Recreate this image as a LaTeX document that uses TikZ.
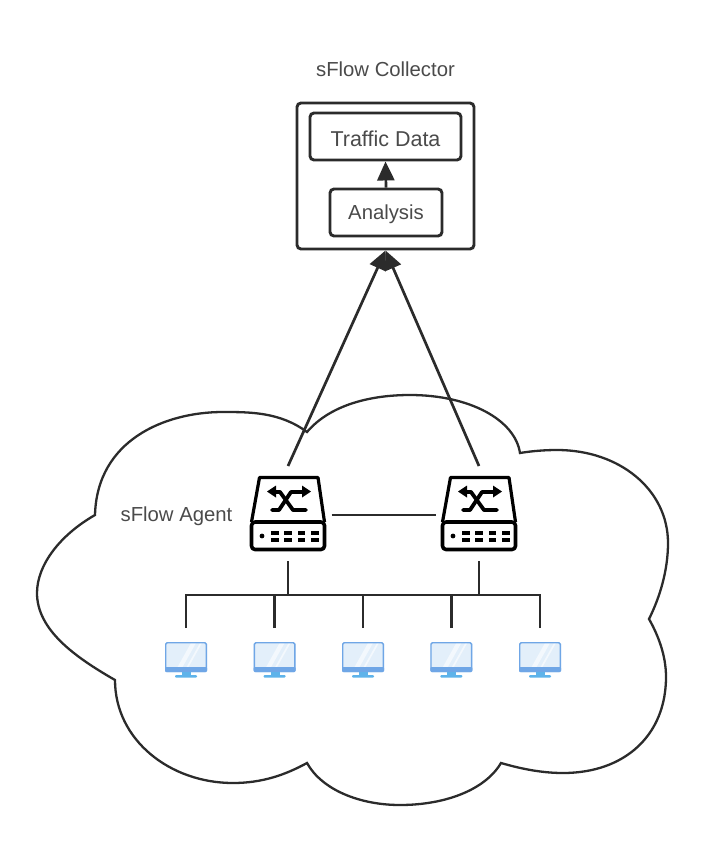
\documentclass[tikz,border=0pt]{standalone}
\usepackage{fontspec}
\setmainfont{Liberation Sans}
\usetikzlibrary{arrows.meta,calc}
\definecolor{ink}{HTML}{2B2B2B}
\definecolor{txt}{HTML}{4A4A4A}
\definecolor{monedge}{HTML}{6FA6E6}
\definecolor{monfill}{HTML}{E3EFFA}
\definecolor{monstreak}{HTML}{F3F8FD}
\tikzset{
  wire/.style={draw=ink,line width=2.7pt},
  flow/.style={wire,-{Triangle[length=19pt,width=17pt]}},
  label/.style={inner sep=0pt,text=txt,font=\fontsize{20.3}{23}\selectfont},
  boxed/.style={draw=ink,line width=2.9pt,rounded corners=4pt,inner sep=0pt,fill=white},
  swnode/.style={minimum width=76pt,minimum height=77pt,inner sep=0pt,outer xsep=5.5pt,outer ysep=9pt},
  monnode/.style={minimum width=42pt,minimum height=36pt,inner sep=0pt,outer ysep=14pt},
  switchicon/.pic={
    \begin{scope}[shift={(-38,-38.5)},line join=round]
      \draw[black,line width=3.2pt,line join=round] (1.5,47) -- (9.5,2.5) -- (68,2.5) -- (74.5,47);
      \draw[black,line width=3.6pt,rounded corners=3.5pt] (1.5,47) rectangle (74.5,74.5);
      \fill[black] (12,61) circle (2.4pt);
      \foreach \px in {21,34,47.5,61}{
        \fill[black] (\px,55.8) rectangle +(7.8,4);
        \fill[black] (\px,63) rectangle +(7.8,4);
      }
      \draw[black,line width=3.8pt,line cap=round] (22,35) -- (29,35) -- (41,17) -- (54,17);
      \draw[black,line width=3.8pt,line cap=round] (24,17) -- (30,17) -- (43,35) -- (56,35);
      \fill[black] (61,16.5) -- (52,10.5) -- (52,22.5) -- cycle;
      \fill[black] (17,16.5) -- (26,10.5) -- (26,22.5) -- cycle;
    \end{scope}
  },
  monitoricon/.pic={
    \begin{scope}[shift={(-21,-18)}]
      \fill[monfill,rounded corners=1.5pt] (0,0) rectangle (42,30);
      \begin{scope}
        \clip (1,1) rectangle (41,25);
        \fill[monstreak] (12,26) -- (26,1) -- (31,1) -- (17,26) -- cycle;
        \fill[monstreak] (21,26) -- (35,1) -- (37,1) -- (23,26) -- cycle;
      \end{scope}
      \draw[monedge,line width=1.4pt,rounded corners=1.5pt] (0.7,0.7) rectangle (41.3,29.5);
      \fill[monedge,rounded corners=1pt] (0,25) rectangle (42,30);
      \fill[monedge!85!cyan] (17,30) rectangle (26,34);
      \fill[monedge!85!cyan,rounded corners=1pt] (10,33) rectangle (32,35.6);
    \end{scope}
  }
}
\begin{document}
\begin{tikzpicture}[x=1pt,y=-1pt]
\useasboundingbox (0,0) rectangle (718,843);
% cloud
\draw[ink,line width=2.3pt,line join=miter]
  (307,432) .. controls (280,412) and (250,412) .. (223,412)
  .. controls (165,412) and (97,440) .. (95,515)
  .. controls (60,535) and (37,565) .. (37,593)
  .. controls (37,630) and (75,657) .. (115,680)
  .. controls (115,740) and (170,783) .. (233,783)
  .. controls (262,783) and (285,775) .. (307,763)
  .. controls (322,790) and (360,805) .. (400,805)
  .. controls (445,805) and (485,790) .. (501,763)
  .. controls (525,770) and (545,773) .. (563,773)
  .. controls (625,773) and (666,735) .. (666,677)
  .. controls (666,655) and (658,635) .. (649,619)
  .. controls (660,597) and (668,570) .. (668,543)
  .. controls (668,490) and (620,450) .. (557,450)
  .. controls (545,450) and (532,451) .. (520,453)
  .. controls (515,420) and (470,395) .. (410,395)
  .. controls (370,395) and (330,405) .. (307,432)
  -- cycle;
% collector
\node[label] (title) at (385.5,69.5) {sFlow Collector};
\node[boxed,minimum width=177pt,minimum height=146pt] (collector) at (385.5,176) {};
\node[boxed,minimum width=151pt,minimum height=47pt] (traffic) at (385.5,136.5) {};
\node[label,font=\fontsize{21.5}{24}\selectfont,yshift=-2pt] (trafficlabel) at (traffic.center) {Traffic Data};
\node[boxed,minimum width=112pt,minimum height=47pt] (analysis) at (386,212.5) {};
\node[label,yshift=-2pt] (analysislabel) at (analysis.center) {Analysis};
\draw[flow] (analysis.north) -- (traffic.south);
% switches
\node[swnode] (sw1) at (288,513.5) {};
\node[swnode] (sw2) at (479,513.5) {};
\pic at (sw1.center) {switchicon};
\pic at (sw2.center) {switchicon};
\node[label] (agent) at (176.5,516.5) {sFlow Agent};
\draw[flow] (sw1.north) -- (collector.south);
\draw[flow] (sw2.north) -- (collector.south);
\draw[wire] ([yshift=-1.5pt]sw1.east) -- ([yshift=-1.5pt]sw2.west);
% hosts
\foreach \n/\hx in {1/186,2/274.6,3/363,4/451.3,5/540}{
  \node[monnode] (m\n) at (\hx,660) {};
  \pic at (m\n.center) {monitoricon};
}
\coordinate (busL) at (186,595);
\coordinate (busR) at (540,595);
\draw[wire,line cap=rect] (busL) -- (busR);
\draw[wire] (sw1.south) -- (sw1.south |- busL);
\draw[wire] (sw2.south) -- (sw2.south |- busL);
\foreach \n in {1,...,5}{
  \draw[wire] (m\n.north) -- (m\n.north |- busL);
}
\end{tikzpicture}
\end{document}
